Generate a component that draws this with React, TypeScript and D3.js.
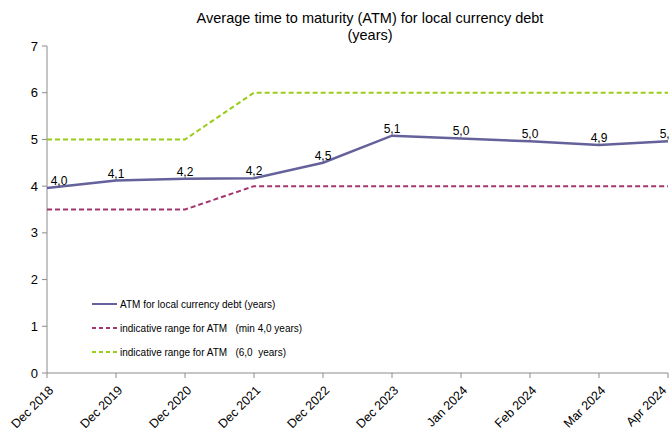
import React, { useEffect, useRef } from 'react'
import * as d3 from 'd3'

const periods = ['Dec 2018','Dec 2019','Dec 2020','Dec 2021','Dec 2022','Dec 2023','Jan 2024','Feb 2024','Mar 2024','Apr 2024']
const atm = [3.96, 4.12, 4.16, 4.17, 4.5, 5.08, 5.02, 4.96, 4.88, 4.96]
const minRange = [3.5, 3.5, 3.5, 4, 4, 4, 4, 4, 4, 4]
const maxRange = [5, 5, 5, 6, 6, 6, 6, 6, 6, 6]
const yTicks = [0, 1, 2, 3, 4, 5, 6, 7]
const legendItems = [
  { name: 'ATM for local currency debt (years)', color: '#65619b', dash: null },
  { name: 'indicative range for ATM   (min 4,0 years)', color: '#a2366e', dash: '4,3' },
  { name: 'indicative range for ATM   (6,0  years)', color: '#9acd1a', dash: '4,3' },
]

export default function App(){
  const svgRef = useRef<SVGSVGElement>(null)

  useEffect(()=>{
    document.body.style.margin = '0'
    const width=670, height=432, m={top:46,bottom:59,left:47,right:2}
    const svg=d3.select(svgRef.current).attr('width',width).attr('height',height)
      .style('font-family','"Liberation Sans", Arial, sans-serif')
    svg.selectAll('*').remove()

    const x=d3.scalePoint<string>().domain(periods).range([m.left,width-m.right])
    const y=d3.scaleLinear().domain([0,7]).range([height-m.bottom,m.top])

    // title
    svg.append('text').attr('x',370).attr('y',23).attr('text-anchor','middle').attr('font-size',14.5).attr('fill','#000')
      .text('Average time to maturity (ATM) for local currency debt')
    svg.append('text').attr('x',370).attr('y',40).attr('text-anchor','middle').attr('font-size',14.5).attr('fill','#000')
      .text('(years)')

    const axisColor='#8c8c8c'
    // y axis
    svg.append('line').attr('x1',m.left).attr('x2',m.left).attr('y1',y(7)).attr('y2',y(0)).attr('stroke',axisColor)
    yTicks.forEach(t=>{
      svg.append('line').attr('x1',m.left-5).attr('x2',m.left).attr('y1',y(t)).attr('y2',y(t)).attr('stroke',axisColor)
      svg.append('text').attr('x',m.left-9).attr('y',y(t)+4.5).attr('text-anchor','end').attr('font-size',13).text(t)
    })
    // x axis
    svg.append('line').attr('x1',m.left).attr('x2',width-m.right).attr('y1',y(0)).attr('y2',y(0)).attr('stroke',axisColor)
    periods.forEach(p=>{
      const px=x(p)!
      svg.append('line').attr('x1',px).attr('x2',px).attr('y1',y(0)).attr('y2',y(0)+5).attr('stroke',axisColor)
      // keep the last label inside the picture
      const lx=Math.min(px+1,width-9)
      svg.append('text').attr('transform',`translate(${lx},${y(0)+12}) rotate(-45)`)
        .attr('text-anchor','end').attr('font-size',12.5).attr('dy','0.7em').text(p)
    })

    const line=d3.line<number>().x((d,i)=>x(periods[i])!).y(d=>y(d))
    svg.append('path').attr('d',line(maxRange)).attr('fill','none').attr('stroke',legendItems[2].color).attr('stroke-width',2).attr('stroke-dasharray','5,3')
    svg.append('path').attr('d',line(minRange)).attr('fill','none').attr('stroke',legendItems[1].color).attr('stroke-width',2).attr('stroke-dasharray','5,3')
    svg.append('path').attr('d',line(atm)).attr('fill','none').attr('stroke',legendItems[0].color).attr('stroke-width',2.5)

    // data labels
    atm.forEach((v,i)=>{
      const lbl=v.toFixed(1).replace('.',',')
      let px=x(periods[i])!
      if(i===0) px=m.left+12
      svg.append('text').attr('x',px).attr('y',y(v)-3).attr('text-anchor','middle').attr('font-size',12).text(lbl)
    })

    // legend
    const lg=svg.append('g').attr('transform','translate(92,304)')
    legendItems.forEach((it,i)=>{
      const ly=i*24
      lg.append('line').attr('x1',0).attr('x2',25).attr('y1',ly).attr('y2',ly).attr('stroke',it.color).attr('stroke-width',2)
        .attr('stroke-dasharray',it.dash)
      lg.append('text').attr('x',28).attr('y',ly+3.5).attr('font-size',10).style('white-space','pre').text(it.name)
    })
  },[])

  return (<div><svg ref={svgRef}></svg></div>)
}
